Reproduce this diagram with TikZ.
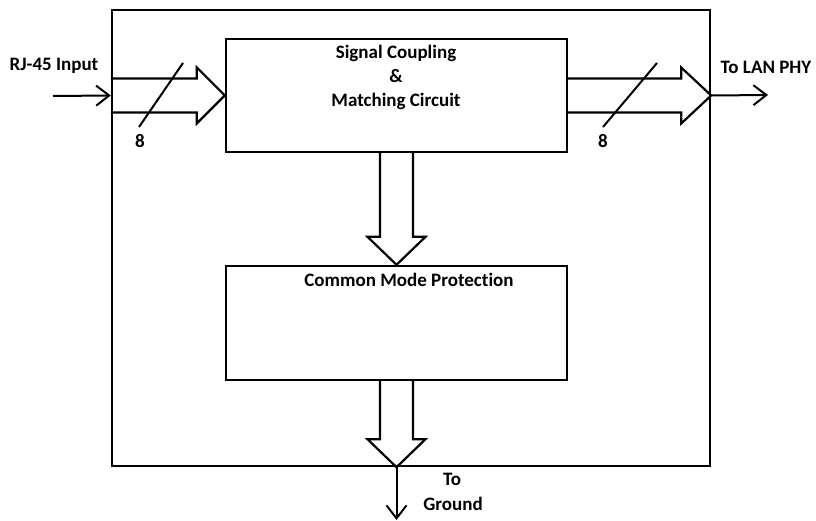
\documentclass[tikz,border=0pt]{standalone}
\usepackage{fontspec}
\setmainfont{Carlito}[Ligatures=NoCommon]
\usetikzlibrary{arrows.meta}
\tikzset{
  box/.style={draw, line width=2.4pt, rectangle, inner sep=0pt},
  blockarrow/.style={draw, line width=2.2pt, line join=miter},
  thinarrow/.style={line width=2pt, -{Straight Barb[length=13pt,width=20pt,line width=2pt]}},
  lbl/.style={font=\fontsize{19}{24}\selectfont\bfseries, inner sep=0pt, align=center},
  slash/.style={line width=2pt}
}
\begin{document}
\begin{tikzpicture}[x=1pt,y=-1pt]
\useasboundingbox (0,0) rectangle (816,521);
% boxes
\node[box, minimum width=598pt, minimum height=456pt] (outer) at (411,238) {};
\node[box, minimum width=341pt, minimum height=113pt] (sig) at (396.5,95.5) {};
\node[box, minimum width=341pt, minimum height=114pt] (cm) at (396.5,323) {};
\node[lbl] (sigtext) at (396,77) {Signal Coupling\\\&\\Matching Circuit};
\node[lbl] (cmtext) at (409,280) {Common Mode Protection};
% left block arrow: outer.west -> sig.west
\coordinate (lt) at (outer.west |- sig.west);
\draw[blockarrow] ([yshift=-17pt]lt) -- ([xshift=-28pt,yshift=-17pt]sig.west) -- ([xshift=-28pt,yshift=-28pt]sig.west) -- (sig.west) -- ([xshift=-28pt,yshift=28pt]sig.west) -- ([xshift=-28pt,yshift=17pt]sig.west) -- ([yshift=17pt]lt);
% right block arrow: sig.east -> outer.east
\coordinate (rt) at (outer.east |- sig.east);
\draw[blockarrow] ([yshift=-17pt]sig.east) -- ([xshift=-30pt,yshift=-17pt]rt) -- ([xshift=-30pt,yshift=-28pt]rt) -- (rt) -- ([xshift=-30pt,yshift=28pt]rt) -- ([xshift=-30pt,yshift=17pt]rt) -- ([yshift=17pt]sig.east);
% down block arrow: sig.south -> cm.north
\draw[blockarrow] ([xshift=-16.5pt]sig.south) -- ([xshift=-16.5pt,yshift=28pt]cm.north) -- ([xshift=-29pt,yshift=28pt]cm.north) -- (cm.north) -- ([xshift=29pt,yshift=28pt]cm.north) -- ([xshift=16.5pt,yshift=28pt]cm.north) -- ([xshift=16.5pt]sig.south);
% down block arrow: cm.south -> outer.south
\coordinate (bt) at (cm.south |- outer.south);
\draw[blockarrow] ([xshift=-16.5pt]cm.south) -- ([xshift=-16.5pt,yshift=28pt]bt) -- ([xshift=-29pt,yshift=28pt]bt) -- (bt) -- ([xshift=29pt,yshift=28pt]bt) -- ([xshift=16.5pt,yshift=28pt]bt) -- ([xshift=16.5pt]cm.south);
% thin arrows
\coordinate (inStart) at (53,96);
\coordinate (outEnd) at (768,95);
\coordinate (gndEnd) at (396.5,520);
\draw[thinarrow] (inStart) -- (lt);
\draw[thinarrow] (rt) -- (outEnd);
\draw[thinarrow] (bt) -- (gndEnd);
% bus slashes
\coordinate (s1a) at (139,127); \coordinate (s1b) at (183,63);
\coordinate (s2a) at (603,127); \coordinate (s2b) at (657,63);
\draw[slash] (s1a) -- (s1b);
\draw[slash] (s2a) -- (s2b);
% labels
\node[lbl] (rj) at (54,66) {RJ-45 Input};
\node[lbl] (lan) at (766,67) {To LAN PHY};
\node[lbl] (n1) at (140,141) {8};
\node[lbl] (n2) at (603,141) {8};
\node[lbl] (to) at (452,479) {To};
\node[lbl] (gnd) at (453,504) {Ground};
\end{tikzpicture}
\end{document}
